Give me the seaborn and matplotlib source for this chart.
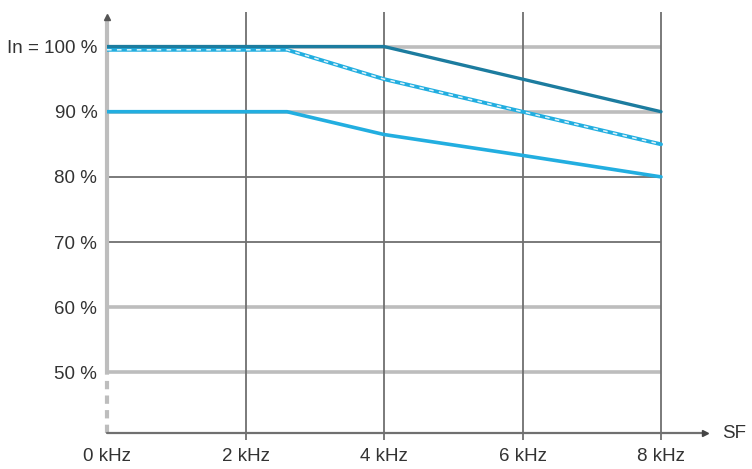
"""
Derating curves: nominal current vs switching frequency.
"""
import numpy as np
import pandas as pd
import matplotlib
matplotlib.use("Agg")
import matplotlib.pyplot as plt
import seaborn as sns

# Data
freq_upper = [0, 4, 8]
current_upper = [100, 100, 90]

freq_mid = [0, 2.6, 4, 6, 8]
current_mid = [99.5, 99.5, 95, 90, 85]

freq_lower = [0, 2.6, 4, 6, 8]
current_lower = [90, 90, 86.5, 83.3, 80]

x_ticks = [0, 2, 4, 6, 8]
x_labels = ["0 kHz", "2 kHz", "4 kHz", "6 kHz", "8 kHz"]
y_ticks = [50, 60, 70, 80, 90, 100]
y_labels = ["50 %", "60 %", "70 %", "80 %", "90 %", "In = 100 %"]

DARK = "#1c7c9f"
LIGHT = "#22aee0"
GRID_LIGHT = "#bdbdbd"
GRID_DARK = "#707070"

sns.set_theme(style="white")
plt.rcParams["font.family"] = ["Liberation Sans", "DejaVu Sans"]

fig = plt.figure(figsize=(7.52, 4.69), dpi=100)
W, H = 752, 469
x0_px, x8_px = 107, 661
ax_right_px = 712
ax = fig.add_axes([x0_px / W, (H - 433) / H, (ax_right_px - x0_px) / W, (433 - 12) / H])

x_min = 0
x_max = 8 * (ax_right_px - x0_px) / (x8_px - x0_px)
y_min, y_max = 40.7, 105.3
ax.set_xlim(x_min, x_max)
ax.set_ylim(y_min, y_max)

# Horizontal grid: light thick lines at 100/90/60/50, darker thin at 80/70
for y in y_ticks:
    if y in (80, 70):
        ax.hlines(y, 0, 8, color=GRID_DARK, lw=1.3, zorder=1)
    else:
        ax.hlines(y, 0, 8, color=GRID_LIGHT, lw=2.6, zorder=1)

# Vertical grid lines, extending a little below the x axis
for x in x_ticks[1:]:
    ax.vlines(x, y_min - 1.1, y_max, color=GRID_DARK, lw=1.3, zorder=1, clip_on=False)

# Curves
df_upper = pd.DataFrame({"f": freq_upper, "i": current_upper})
df_mid = pd.DataFrame({"f": freq_mid, "i": current_mid})
df_lower = pd.DataFrame({"f": freq_lower, "i": current_lower})

sns.lineplot(data=df_lower, x="f", y="i", color=LIGHT, lw=2.6, ax=ax, zorder=3)
sns.lineplot(data=df_mid, x="f", y="i", color=LIGHT, lw=2.8, ax=ax, zorder=3)
ax.plot(freq_mid, current_mid, color="white", lw=1.1, dashes=(3, 3.5), alpha=0.85, zorder=4)
sns.lineplot(data=df_upper, x="f", y="i", color=DARK, lw=2.4, ax=ax, zorder=5)

# Axes: hide default spines, draw custom ones
for s in ax.spines.values():
    s.set_visible(False)

ax.plot([0, 0], [50, y_max - 1.2], color=GRID_LIGHT, lw=3, solid_capstyle="butt",
        zorder=2, clip_on=False)
ax.plot([0, 0], [y_min, 50], color=GRID_LIGHT, lw=3, dashes=(2, 1.5), zorder=2, clip_on=False)
ax.plot(0, y_max - 0.8, marker="^", color="#555555", ms=4, clip_on=False, zorder=6)

ax.plot([0, x_max - 0.12], [y_min, y_min], color=GRID_DARK, lw=1.6, zorder=2, clip_on=False)
ax.plot(x_max - 0.1, y_min, marker=">", color="#444444", ms=5, clip_on=False, zorder=6)
ax.text(x_max + 0.14, y_min, "SF", ha="left", va="center", fontsize=13.5, color="#333333",
        clip_on=False)

ax.set_xticks(x_ticks)
ax.set_xticklabels(x_labels)
ax.set_yticks(y_ticks)
ax.set_yticklabels(y_labels)
ax.tick_params(axis="both", length=0, labelsize=13.5, colors="#333333")
ax.tick_params(axis="x", pad=11)
ax.tick_params(axis="y", pad=7)
ax.set_xlabel("")
ax.set_ylabel("")
ax.grid(False)

fig.savefig("out.png", dpi=100)
